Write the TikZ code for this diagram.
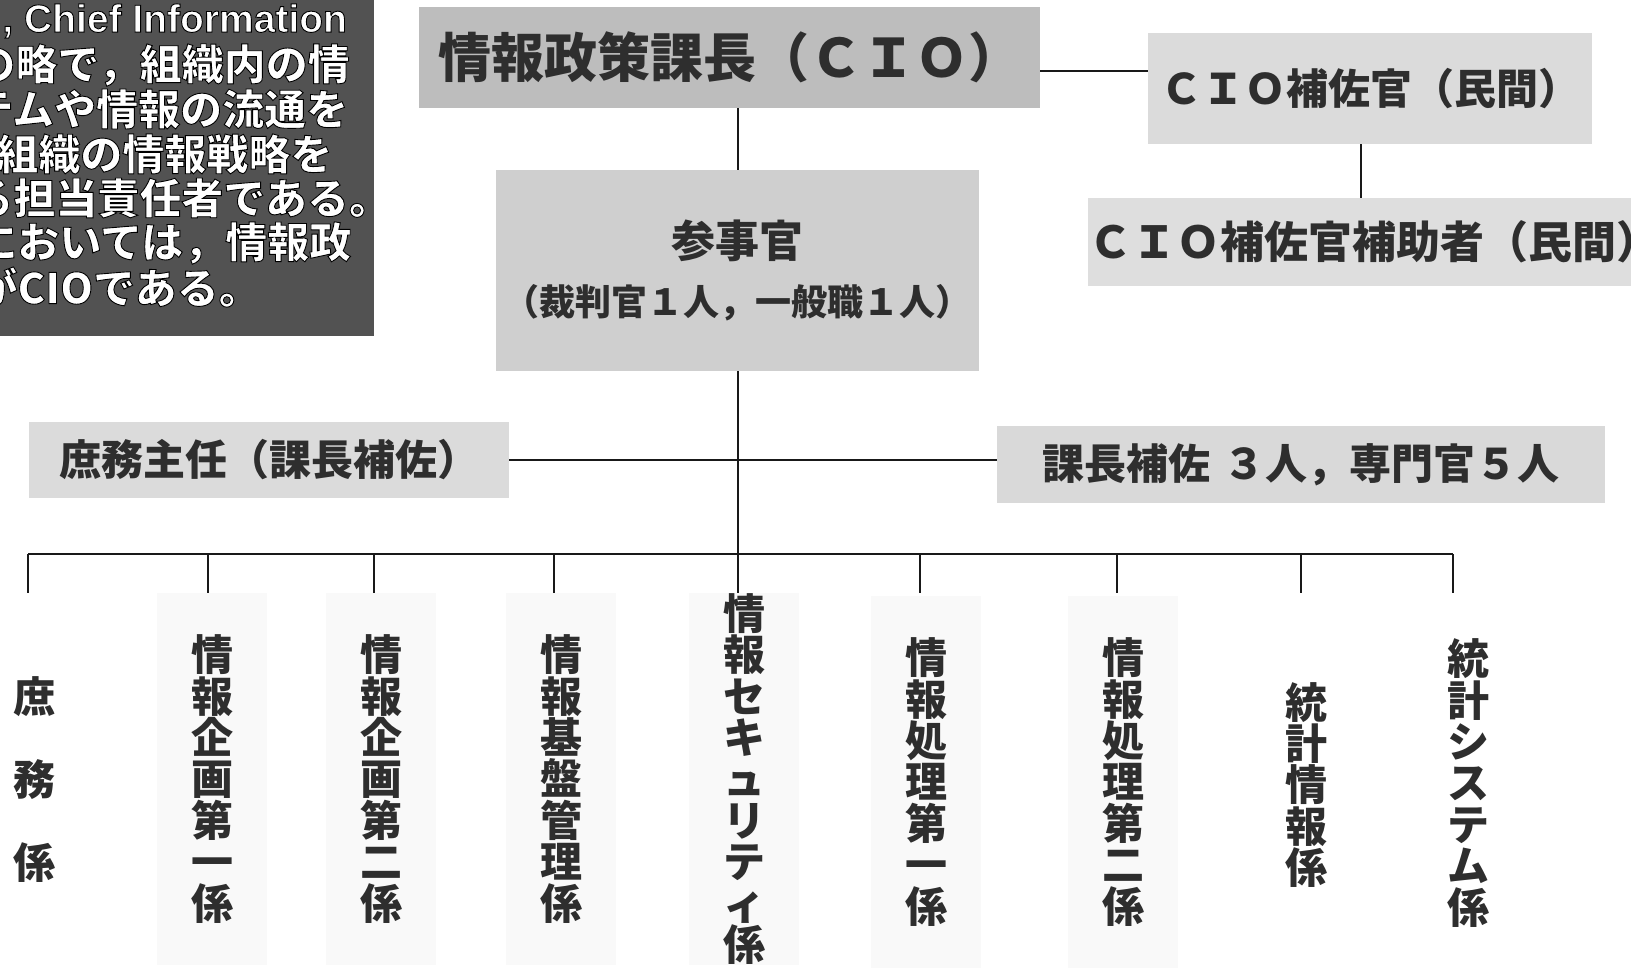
\documentclass[tikz,border=0pt]{standalone}
\usepackage{fontspec}
\newfontfamily\jp{Noto Sans CJK JP}
\newfontfamily\latb{Liberation Sans Bold}
\newcommand\outon{\special{pdf:code 2 Tr 0 G 0.45 w}}
\newcommand\outoff{\special{pdf:code 0 Tr}}
\newcommand\tightlines{\lineskiplimit=-50pt\relax}
\tikzset{
  box/.style={fill=black!16, text=black!82, inner sep=0pt, font=\jp\bfseries\fontsize{21}{24}\selectfont},
  col/.style={text=black!82, inner sep=0pt, align=center, font=\jp\bfseries\fontsize{21}{20.7}\selectfont\tightlines},
  colbg/.style={col, fill=black!2.5, minimum width=55pt, minimum height=186pt},
  notetext/.style={anchor=west, inner sep=0pt, text=white, font=\jp\bfseries\fontsize{21}{24}\selectfont},
  conn/.style={draw=black!90, line width=0.75pt},
  busline/.style={draw=black!90, line width=1.2pt},
}
\begin{document}
\begin{tikzpicture}[x=0.5pt,y=-0.5pt]
\useasboundingbox[fill=white] (0,0) rectangle (1631,969);
% note box (cut off at left)
\node[fill=black!68, inner sep=0pt, minimum width=187pt, minimum height=168pt, anchor=north west] (note) at (0,0) {};
\begin{scope}
\clip (0,0) rectangle (374,336);
\node[notetext, font=\latb\fontsize{19.5}{24}\selectfont] (n1) at (2,21)  {\outon , Chief Information\outoff};
\node[notetext] (n2) at (-27,65) {\outon の略で，組織内の情\outoff};
\node[notetext] (n3) at (-29,109) {\outon テムや情報の流通を\outoff};
\node[notetext] (n4) at (-4,154) {\outon 組織の情報戦略を\outoff};
\node[notetext] (n5) at (-29,198) {\outon る担当責任者である。\outoff};
\node[notetext] (n6) at (-25,243) {\outon においては，情報政\outoff};
\node[notetext] (n7) at (-25,287) {\outon がCIOである。\outoff};
\end{scope}
% boxes
\node[box, fill=black!26, minimum width=310.5pt, minimum height=50.5pt, font=\jp\bfseries\fontsize{26.5}{30}\selectfont] (top) at (729.5,57.5) {情報政策課長（ＣＩＯ）};
\node[box, fill=black!14, minimum width=222pt, minimum height=55.5pt] (cio) at (1370,88.5) {ＣＩＯ補佐官（民間）};
\node[box, fill=black!13, minimum width=271.5pt, minimum height=44pt, anchor=west, font=\jp\bfseries\fontsize{22}{26}\selectfont] (ciosub) at (1088,242) {ＣＩＯ補佐官補助者（民間）};
\node[box, fill=black!19, minimum width=241.5pt, minimum height=100.5pt, align=center, font=\jp\bfseries\fontsize{18}{29.2}\selectfont] (sanji) at (737.5,270.5) {{\fontsize{22}{29.2}\selectfont 参事官}\\（裁判官１人，一般職１人）};
\node[box, fill=black!14, minimum width=240pt, minimum height=38pt] (shomu) at (269,460) {庶務主任（課長補佐）};
\node[box, fill=black!15, minimum width=304pt, minimum height=38.5pt] (kacho) at (1301,464.5) {課長補佐\hspace{0.3em}３人，専門官５人};
% columns
\node[col, font=\jp\bfseries\fontsize{21}{41.5}\selectfont] (c1) at (34,780) {庶\\務\\係};
\node[colbg] (c2) at (212,779) {情\\報\\企\\画\\第\\一\\係};
\node[colbg] (c3) at (381,779) {情\\報\\企\\画\\第\\二\\係};
\node[colbg] (c4) at (561,779) {情\\報\\基\\盤\\管\\理\\係};
\node[colbg] (c5) at (744,779) {情\\報\\セ\\キ\\ュ\\リ\\テ\\ィ\\係};
\node[colbg] (c6) at (926,782) {情\\報\\処\\理\\第\\一\\係};
\node[colbg] (c7) at (1123,782) {情\\報\\処\\理\\第\\二\\係};
\node[col] (c8) at (1306,785) {統\\計\\情\\報\\係};
\node[col] (c9) at (1468,783) {統\\計\\シ\\ス\\テ\\ム\\係};
% helper coordinates
\coordinate (h1) at (0,71);
\coordinate (v1) at (1361,0);
\coordinate (bus) at (0,554);
\coordinate (t1) at (28,593);
\coordinate (t2) at (208,593);
\coordinate (t3) at (374,593);
\coordinate (t4) at (554,593);
\coordinate (t5) at (738,593);
\coordinate (t6) at (920,593);
\coordinate (t7) at (1117,593);
\coordinate (t8) at (1301,593);
\coordinate (t9) at (1453,593);
% connectors
\draw[conn] (top.east |- h1) -- (cio.west |- h1);
\draw[conn] (cio.south -| v1) -- (ciosub.north -| v1);
\draw[conn] (top.south -| t5) -- (sanji.north -| t5);
\draw[conn] (sanji.south -| t5) -- (t5);
\draw[conn] (shomu.east) -- (shomu.east -| kacho.west);
\draw[busline] (t1 |- bus) -- (t9 |- bus);
\foreach \t in {t1,t2,t3,t4,t6,t7,t8,t9} {\draw[conn] (\t |- bus) -- (\t);}
\end{tikzpicture}
\end{document}
